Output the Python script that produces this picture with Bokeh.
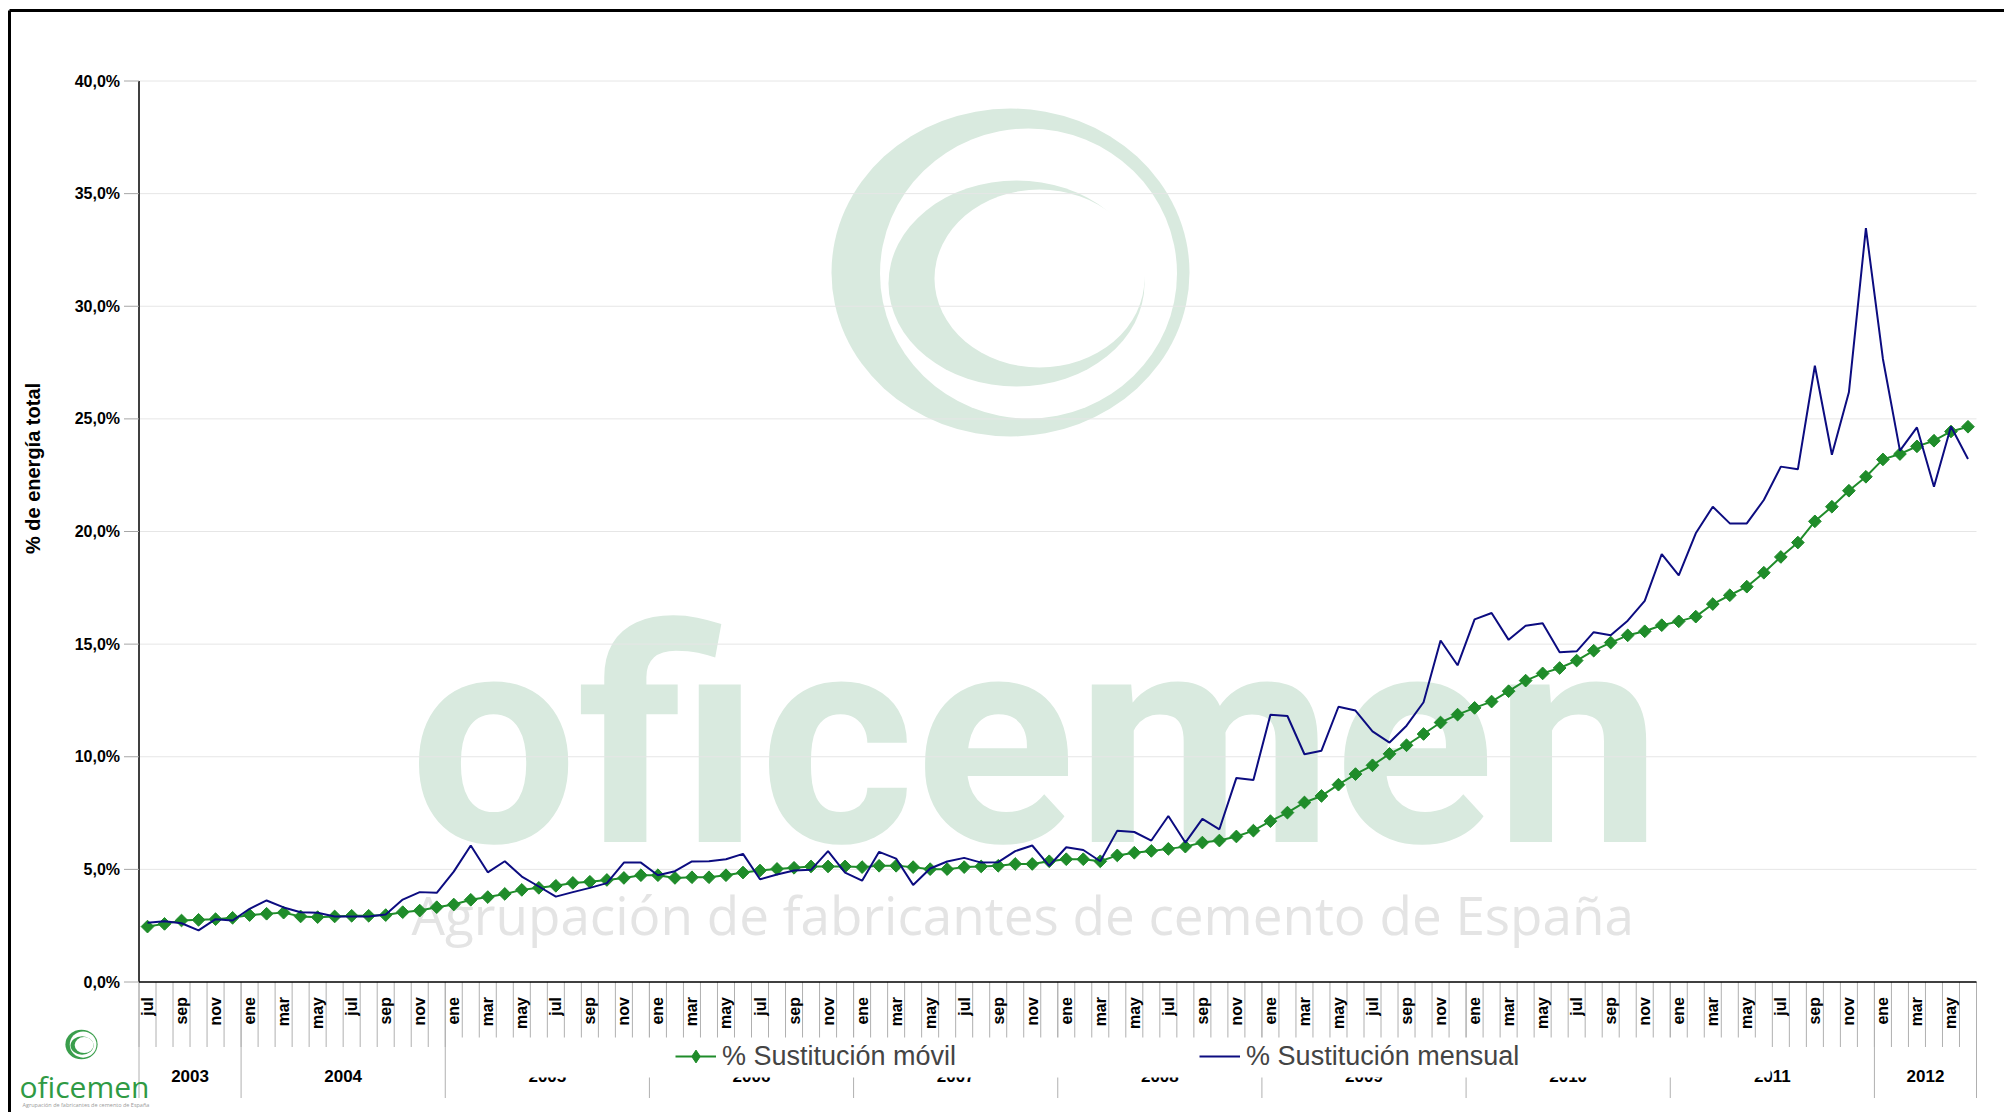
import math
from bokeh.plotting import figure
from bokeh.models import Range1d, Legend, LegendItem
from bokeh.core.properties import value
from bokeh.embed import file_html
from bokeh.resources import INLINE

# ---------------- data ----------------
month_names = ["ene", "feb", "mar", "abr", "may", "jun",
               "jul", "ago", "sep", "oct", "nov", "dic"]
start_year = 2003
start_month = 7          # julio 2003
n_months = 108           # jul 2003 .. jun 2012
years = ["2003", "2004", "2005", "2006", "2007", "2008", "2009", "2010", "2011", "2012"]

y_ticks = [0, 5, 10, 15, 20, 25, 30, 35, 40]
y_tick_labels = ["0,0%", "5,0%", "10,0%", "15,0%", "20,0%", "25,0%", "30,0%", "35,0%", "40,0%"]

movil = [2.46, 2.58, 2.73, 2.76, 2.79, 2.85, 2.97, 3.03, 3.08, 2.91, 2.88, 2.91,
         2.94, 2.94, 2.97, 3.10, 3.17, 3.32, 3.44, 3.65, 3.77, 3.91, 4.09, 4.18,
         4.27, 4.40, 4.45, 4.53, 4.62, 4.74, 4.74, 4.62, 4.65, 4.65, 4.74, 4.86,
         4.95, 5.02, 5.07, 5.13, 5.13, 5.13, 5.10, 5.16, 5.16, 5.10, 5.01, 5.01,
         5.10, 5.13, 5.16, 5.24, 5.24, 5.36, 5.45, 5.45, 5.36, 5.62, 5.74, 5.82,
         5.91, 6.01, 6.19, 6.28, 6.46, 6.72, 7.14, 7.52, 7.97, 8.26, 8.76, 9.23,
         9.62, 10.13, 10.51, 11.01, 11.52, 11.87, 12.17, 12.45, 12.91, 13.38, 13.70, 13.94,
         14.27, 14.71, 15.07, 15.39, 15.57, 15.84, 16.01, 16.22, 16.78, 17.17, 17.55, 18.17,
         18.87, 19.51, 20.45, 21.10, 21.81, 22.43, 23.20, 23.44, 23.78, 24.03, 24.44, 24.65]

mensual = [2.63, 2.70, 2.61, 2.29, 2.79, 2.73, 3.25, 3.62, 3.31, 3.10, 3.07, 2.91,
           2.91, 2.91, 3.00, 3.66, 3.99, 3.96, 4.90, 6.06, 4.87, 5.36, 4.68, 4.24,
           3.79, 3.99, 4.18, 4.39, 5.30, 5.30, 4.74, 4.92, 5.35, 5.36, 5.45, 5.69,
           4.56, 4.77, 4.95, 4.98, 5.81, 4.86, 4.50, 5.78, 5.48, 4.31, 5.04, 5.35,
           5.51, 5.30, 5.32, 5.81, 6.06, 5.16, 5.98, 5.86, 5.36, 6.72, 6.66, 6.28,
           7.37, 6.19, 7.24, 6.78, 9.06, 8.97, 11.87, 11.81, 10.11, 10.27, 12.22, 12.05,
           11.13, 10.63, 11.38, 12.42, 15.16, 14.06, 16.10, 16.38, 15.19, 15.82, 15.93, 14.64,
           14.68, 15.53, 15.39, 16.04, 16.92, 19.00, 18.05, 19.92, 21.10, 20.36, 20.36, 21.40,
           22.88, 22.76, 27.36, 23.41, 26.18, 33.47, 27.66, 23.59, 24.62, 21.99, 24.66, 23.22]

series_names = ["% Sustitución móvil", "% Sustitución mensual"]
y_title = "% de energía total"
brand = "oficemen"
brand_sub = "Agrupación de fabricantes de cemento de España"

# ---------------- derived category positions ----------------
x = list(range(n_months))
cal = [(start_year + (start_month - 1 + i) // 12, (start_month - 1 + i) % 12) for i in x]
month_ticks = [i for i, (yy, mm) in enumerate(cal) if mm % 2 == 0]
month_tick_labels = [month_names[cal[i][1]] for i in month_ticks]
month_bounds = [i - 0.5 for i in range(n_months + 1)]

year_centers, year_bounds = [], [-0.5]
for yl in years:
    idx = [i for i, (yy, mm) in enumerate(cal) if str(yy) == yl]
    year_centers.append((idx[0] + idx[-1]) / 2)
    year_bounds.append(idx[-1] + 0.5)

# ---------------- layout (page pixels) ----------------
W, H = 2004, 1112
AX_LEFT, AX_RIGHT = 138.5, 1976.0      # y axis line / right end of x axis
AX_ZERO, AX_TOP = 981.5, 80.5          # 0 % and 40 %
MW = (AX_RIGHT - AX_LEFT) / n_months
PPU = (AX_ZERO - AX_TOP) / y_ticks[-1]
BASE_SHIFT = 0.44                      # alphabetic-baseline correction (em)


def px2x(px):
    return -0.5 + (px - AX_LEFT) / MW


def py2y(py):
    return (AX_ZERO - py) / PPU


GREEN = "#1f8c2a"
NAVY = "#0c0c80"
WM_GREEN = "#d9eadf"
SEP = "#b0b0b0"
FONT = "Liberation Sans"
BOLD = value("bold")

p = figure(width=W, height=H,
           x_range=Range1d(px2x(0), px2x(W)), y_range=Range1d(py2y(H), py2y(0)),
           x_axis_type=None, y_axis_type=None,
           output_backend="svg", toolbar_location=None,
           min_border=0, min_border_left=0, min_border_right=0,
           min_border_top=0, min_border_bottom=0,
           outline_line_color=None, background_fill_color="white",
           border_fill_color="white")


def word(px, py_base, txt, size, color, font="Open Sans", style="normal"):
    p.text(x=[px2x(px)], y=[py2y(py_base - BASE_SHIFT * size)], text=[txt],
           text_font=value(font), text_font_style=value(style),
           text_font_size=f"{size}px", text_color=color,
           text_baseline=value("alphabetic"), text_align=value("left"))


def logo(cx, cy, s, color):
    # emblem: outer crescent ring + inner crescent (page px centre, scale)
    parts = [(0, 0, 358, 328, color), (18, 1, 297, 290, "white"),
             (6, 11, 256, 206, color), (29, 6, 210, 178, "white")]
    for dx, dy, w, h, c in parts:
        p.ellipse(x=[px2x(cx + dx * s)], y=[py2y(cy + dy * s)], width=w * s, height=h * s,
                  width_units="screen", height_units="screen",
                  fill_color=c, line_color=None)


# watermark
logo(1010, 272, 1.0, WM_GREEN)
word(409, 871, brand, 298, WM_GREEN, font="Roboto", style="bold")
word(411, 937, brand_sub, 53, "#e4e4e4")

# outer frame of the picture
p.segment(x0=[px2x(9)], y0=[py2y(10)], x1=[px2x(W)], y1=[py2y(10)],
          line_color="black", line_width=3)
p.segment(x0=[px2x(9)], y0=[py2y(10)], x1=[px2x(9)], y1=[py2y(H)],
          line_color="black", line_width=3)

# horizontal grid
grid_vals = y_ticks[1:]
p.segment(x0=[-0.5] * len(grid_vals), x1=[n_months - 0.5] * len(grid_vals),
          y0=grid_vals, y1=grid_vals, line_color="#e6e6e6", line_width=1)

# y axis
p.segment(x0=[-0.5], y0=[0], x1=[-0.5], y1=[y_ticks[-1]], line_color="black", line_width=1.5)
p.ray(x=[-0.5] * len(y_ticks), y=y_ticks, length=15, length_units="screen",
      angle=math.pi, line_color="#a6a6a6", line_width=1)
p.text(x=[-0.5] * len(y_ticks), y=y_ticks, text=y_tick_labels, x_offset=-19,
       text_align=value("right"), text_baseline=value("middle"),
       text_font=value(FONT), text_font_style=BOLD, text_font_size="16px",
       text_color="black")
p.text(x=[px2x(32)], y=[py2y(468)], text=[y_title], angle=math.pi / 2,
       text_align=value("center"), text_baseline=value("middle"),
       text_font=value(FONT), text_font_style=BOLD, text_font_size="20px",
       text_color="black")

# x axis: months and years
p.ray(x=month_bounds, y=[0] * len(month_bounds), length=65, length_units="screen",
      angle=-math.pi / 2, line_color=SEP, line_width=1)
p.ray(x=year_bounds, y=[0] * len(year_bounds), length=116, length_units="screen",
      angle=-math.pi / 2, line_color=SEP, line_width=1)
p.segment(x0=[-0.5], y0=[0], x1=[n_months - 0.5], y1=[0], line_color="black", line_width=1.5)
p.text(x=month_ticks, y=[0] * len(month_ticks), text=month_tick_labels, angle=math.pi / 2,
       y_offset=15, text_align=value("right"), text_baseline=value("middle"),
       text_font=value(FONT), text_font_style=BOLD, text_font_size="16px",
       text_color="black")
p.text(x=year_centers, y=[0] * len(year_centers), text=years, y_offset=94,
       text_align=value("center"), text_baseline=value("middle"),
       text_font=value(FONT), text_font_style=BOLD, text_font_size="17px",
       text_color="black")

# series
r_line = p.line(x, movil, line_color=GREEN, line_width=2)
r_key = p.scatter(x, movil, marker="diamond", size=11, fill_color=GREEN, line_color=GREEN)
r_pts = p.scatter(x, movil, marker="square", angle=math.pi / 4, size=9,
                  fill_color=GREEN, line_color=GREEN)
r_mens = p.line(x, mensual, line_color=NAVY, line_width=2)

# white band under the legend (covers part of the year row)
p.quad(left=[px2x(446)], right=[px2x(1770)], top=[py2y(1037)], bottom=[py2y(1077)],
       fill_color="white", line_color=None, level="guide")

legend = Legend(items=[LegendItem(label=series_names[0], renderers=[r_line, r_key]),
                       LegendItem(label=series_names[1], renderers=[r_mens])],
                orientation="horizontal", location=(675, H - 1072), padding=6, margin=0,
                spacing=243, glyph_width=41, glyph_height=32, label_standoff=6,
                label_text_font=FONT, label_text_font_size="27px",
                background_fill_color="white", background_fill_alpha=1.0,
                border_line_color=None)
p.add_layout(legend)

# small logo bottom-left
logo(81, 1044, 0.09, "#3a9e4c")
word(19, 1099, brand, 30, "#2f9a44")
word(22, 1107, brand_sub, 5.5, "#9a9a9a")

open("out.html", "w").write(file_html(p, INLINE))
